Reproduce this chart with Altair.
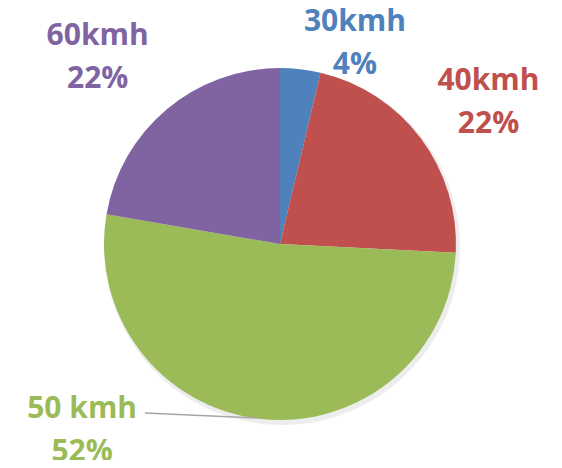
import math
import altair as alt
import pandas as pd

# Data
categories = ["30kmh", "40kmh", "50 kmh", "60kmh"]
shares = [0.037, 0.221, 0.519, 0.223]
colors = ["#4F81BD", "#C0504D", "#9BBB59", "#8064A2"]

# Label layout (polar placement around the pie centre)
label_angle_deg = [20.4, 55.5, 226.9, 315.9]
label_radius = [215, 253, 271, 262]

CX, CY, R = 272, 236, 176

df = pd.DataFrame({
    "cat": categories,
    "share": shares,
    "order": list(range(len(categories))),
    "la": [math.radians(a) for a in label_angle_deg],
    "lr": label_radius,
})

color_scale = alt.Scale(domain=categories, range=colors)

base = alt.Chart(df)

shadow = base.mark_arc(radius=R + 2, color="#000000", opacity=0.07, xOffset=2, yOffset=3).encode(
    theta=alt.Theta("share:Q", stack=True),
    order=alt.Order("order:Q"),
    x=alt.value(CX),
    y=alt.value(CY),
)

pie = base.mark_arc(radius=R).encode(
    theta=alt.Theta("share:Q", stack=True),
    color=alt.Color("cat:N", scale=color_scale, legend=None),
    order=alt.Order("order:Q"),
    x=alt.value(CX),
    y=alt.value(CY),
)

labels = base.transform_calculate(
    label="datum.cat + '\\n' + format(datum.share, '.0%')"
).mark_text(
    font="Open Sans", fontWeight="bold", fontSize=30, lineBreak="\n",
    lineHeight=43, align="center", baseline="middle", dy=-20,
).encode(
    theta=alt.Theta("la:Q", scale=None),
    radius=alt.Radius("lr:Q", scale=None),
    text="label:N",
    color=alt.Color("cat:N", scale=color_scale, legend=None),
    x=alt.value(CX),
    y=alt.value(CY),
)

leader = alt.Chart(pd.DataFrame({"a": [0]})).mark_rule(color="#A6A6A6", strokeWidth=1.5).encode(
    x=alt.value(137), y=alt.value(405), x2=alt.value(250), y2=alt.value(410)
)

chart = alt.layer(shadow, pie, leader, labels).properties(
    width=546, height=452, autosize=alt.AutoSizeParams(type="none"), padding=0
).configure_view(stroke=None)

chart.save("out.html", embed_options={"renderer": "svg", "actions": False})
